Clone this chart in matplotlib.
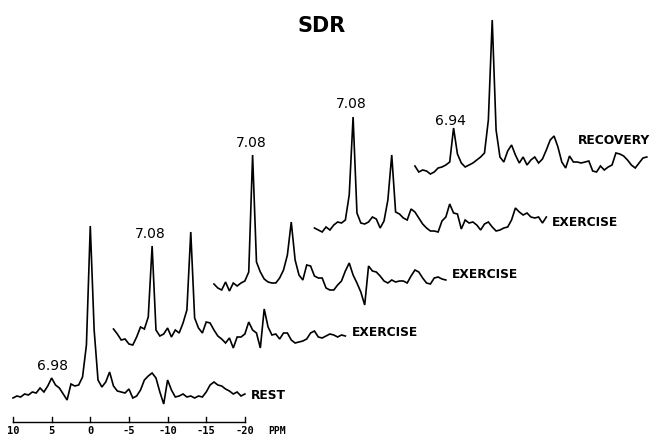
import numpy as np
import matplotlib
matplotlib.use("Agg")
import matplotlib.pyplot as plt

# chemical shift grid (ppm), 0.5 ppm steps from 10 down to -20
ppm = np.arange(10, -20.25, -0.5)

# signal heights (arbitrary units, one per ppm point)
rest = [2, 4, 3, 6, 5, 8, 7, 12, 8, 14, 22, 15, 12, 6, 0, 16, 14, 15, 23, 55,
        174, 70, 20, 13, 18, 28, 14, 9, 8, 7, 11, 2, 4, 10, 20, 24, 27, 22, 8, -4,
        20, 10, 3, 4, 6, 3, 4, 2, 4, 3, 8, 15, 18, 15, 14, 11, 9, 6, 8, 4, 6]
exercise1 = [21, 16, 10, 11, 6, 5, 13, 23, 21, 33, 104, 20, 14, 16, 22, 13, 20, 17, 27, 40,
             118, 32, 22, 17, 28, 27, 20, 14, 11, 7, 12, 2, 13, 13, 16, 28, 20, 17, 2, 41,
             23, 15, 16, 11, 17, 17, 10, 7, 8, 9, 11, 17, 19, 13, 12, 14, 16, 15, 13, 15, 14]
exercise2 = [8, 4, 2, 10, 1, 9, 6, 9, 11, 20, 137, 30, 20, 13, 10, 9, 9, 14, 22, 37,
             70, 32, 17, 12, 27, 26, 16, 14, 14, 4, 2, 2, 7, 11, 21, 29, 17, 9, 0, -13,
             26, 21, 20, 16, 11, 9, 12, 10, 11, 11, 9, 16, 22, 20, 14, 9, 8, 14, 15, 13, 12]
exercise3 = [5, 3, 1, 6, 3, 8, 11, 10, 13, 38, 116, 20, 10, 9, 11, 16, 14, 5, 12, 33,
             78, 21, 19, 15, 13, 24, 21, 15, 9, 5, 2, 2, 1, 12, 16, 29, 20, 19, 4, 13,
             10, 11, 8, 3, 9, 11, 6, 2, 3, 5, 6, 13, 25, 21, 18, 20, 16, 15, 16, 10, 16]
recovery = [10, 4, 6, 5, 2, 4, 8, 9, 11, 14, 48, 22, 13, 9, 11, 13, 16, 19, 23, 56,
            156, 46, 19, 14, 25, 31, 21, 13, 19, 11, 16, 19, 13, 17, 26, 36, 40, 29, 14, 8,
            20, 14, 14, 13, 14, 15, 5, 4, 10, 6, 9, 11, 23, 22, 20, 16, 11, 8, 13, 18, 19]

spectra = [rest, exercise1, exercise2, exercise3, recovery]
names = ["REST", "EXERCISE", "EXERCISE", "EXERCISE", "RECOVERY"]
pi_labels = ["6.98", "7.08", "7.08", "7.08", "6.94"]

scale_ticks = [10, 5, 0, -5, -10, -15, -20]

# stacking layout: each trace shifted right (ppm) and up (pixels)
x_shift = [0, 13.0, 26.0, 39.0, 52.0]
y_base = [36, 86, 144, 203, 260]
# where the name and the Pi shift label sit, relative to each trace
name_pos = [(-20.8, 5), (-20.8, 17), (-20.8, 17), (-20.7, 11), (-11.1, 35)]
pi_pos = [(4.95, 34), (5.25, 116), (5.2, 149), (5.28, 129), (5.45, 55)]

fig = plt.figure(figsize=(6.53, 4.36), dpi=100)
ax = fig.add_axes([0, 0, 1, 1])
ax.set_xlim(11.68, -72.8)
ax.set_ylim(0, 436)
ax.axis("off")

for k, spec in enumerate(spectra):
    x = ppm - x_shift[k]
    y = np.array(spec) + y_base[k]
    ax.plot(x, y, color="black", lw=1.2, solid_joinstyle="miter")
    nx, ny = name_pos[k]
    ax.text(nx - x_shift[k], y_base[k] + ny, names[k], fontsize=8.8,
            fontweight="bold", va="center", ha="left", family="DejaVu Sans")
    px, py = pi_pos[k]
    ax.text(px - x_shift[k], y_base[k] + py, pi_labels[k],
            fontsize=10, ha="center", va="center", family="DejaVu Sans")

# ppm scale bar
ax.plot([scale_ticks[0], scale_ticks[-1]], [14, 14], color="black", lw=1.0)
for t in scale_ticks:
    ax.plot([t, t], [14, 19], color="black", lw=1.0)
    ax.text(t, 5, str(t), fontsize=7.5, ha="center", va="center",
            family="DejaVu Sans Mono", fontweight="bold")
ax.text(-23, 5, "PPM", fontsize=7, ha="left", va="center",
        family="DejaVu Sans Mono", fontweight="bold")

ax.text(0.493, 0.94, "SDR", transform=ax.transAxes, fontsize=15,
        fontweight="bold", ha="center", va="center")

fig.savefig("out.png", dpi=100)
